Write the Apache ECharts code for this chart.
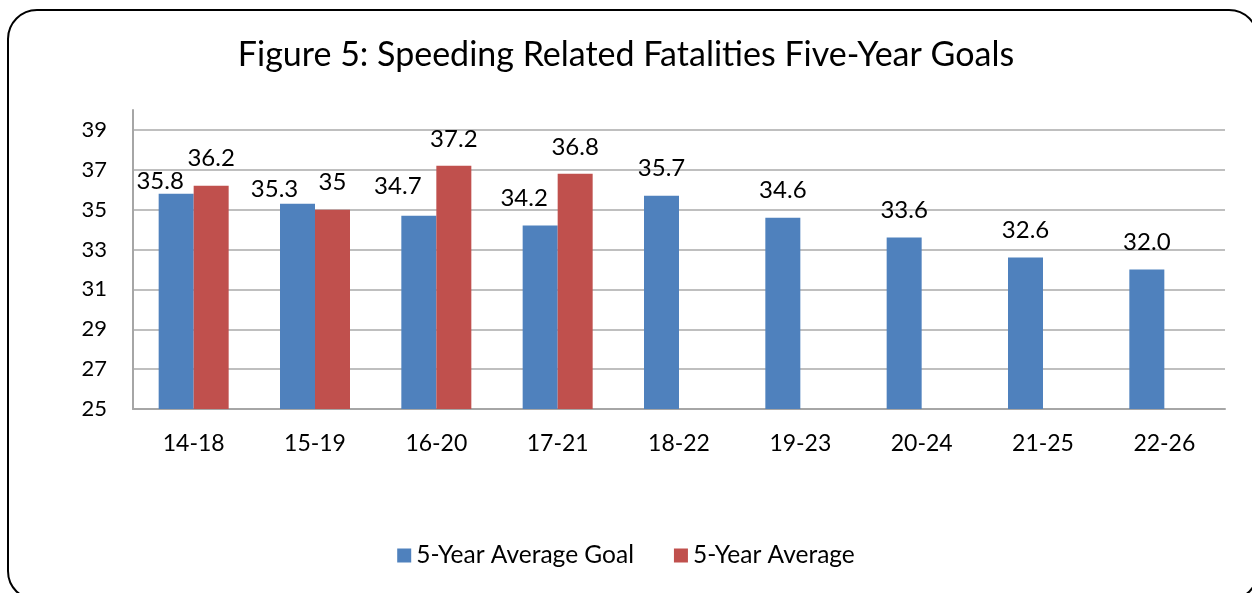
<!DOCTYPE html>
<html>
<head>
<meta charset="utf-8">
<script src="https://cdn.jsdelivr.net/npm/echarts@6/dist/echarts.min.js"></script>
<style>
    html, body { margin: 0; padding: 0; background: #fff; overflow: hidden; }
    #frame {
        position: absolute; left: 7px; top: 9px; width: 1252px; height: 592px;
        border: 2px solid #000; border-radius: 30px; box-sizing: border-box;
    }
    #chart { position: absolute; left: 0; top: 0; width: 1252px; height: 593px; }
</style>
</head>
<body>
<div id="frame"></div>
<div id="chart"></div>
<script>
const periods = ['14-18', '15-19', '16-20', '17-21', '18-22', '19-23', '20-24', '21-25', '22-26']
const goalValues = [35.8, 35.3, 34.7, 34.2, 35.7, 34.6, 33.6, 32.6, 32.0]
const averageValues = [36.2, 35, 37.2, 36.8, null, null, null, null, null]
const yTicks = { min: 25, max: 40, step: 2 }

// goal labels get nudged left/down where they sit next to a red bar
const goalLabelShift = [[-16, 15], [-23, 13], [-21, -2], [-16, 0]]

const font = 'Lato'
const chart = echarts.init(document.getElementById('chart'))

const goalData = goalValues.map((v, i) => {
    const s = goalLabelShift[i]
    return s ? { value: v, label: { offset: s } } : v
})

chart.setOption({
    animation: false,
    textStyle: { fontFamily: font },
    title: {
        text: 'Figure 5: Speeding Related Fatalities Five-Year Goals',
        left: 'center',
        top: 33,
        textStyle: { fontFamily: font, fontSize: 34, fontWeight: 'normal', color: '#000' }
    },
    legend: {
        bottom: 20,
        left: 'center',
        itemWidth: 14,
        itemHeight: 14,
        itemGap: 40,
        icon: 'rect',
        textStyle: { fontFamily: font, fontSize: 24.5, color: '#000' },
        data: ['5-Year Average Goal', '5-Year Average']
    },
    grid: { left: 133, right: 27, top: 110, bottom: 184 },
    xAxis: {
        type: 'category',
        data: periods,
        axisLine: { lineStyle: { color: '#a6a6a6', width: 2 } },
        axisTick: { show: false },
        axisLabel: { fontSize: 23, color: '#000', margin: 23 }
    },
    yAxis: {
        type: 'value',
        min: yTicks.min,
        max: yTicks.max,
        interval: yTicks.step,
        axisLine: { show: true, lineStyle: { color: '#a6a6a6', width: 2 } },
        axisTick: { show: false },
        axisLabel: { fontSize: 22, color: '#000', margin: 26, showMaxLabel: false },
        splitLine: { showMaxLine: false, lineStyle: { color: '#bfbfbf', width: 2 } }
    },
    series: [
        {
            name: '5-Year Average Goal',
            type: 'bar',
            data: goalData,
            barWidth: 35,
            barGap: 0,
            itemStyle: { color: '#4f81bd' },
            label: {
                show: true, position: 'top', distance: 15,
                fontSize: 24, color: '#000',
                formatter: p => Number(p.value).toFixed(1)
            }
        },
        {
            name: '5-Year Average',
            type: 'bar',
            data: averageValues,
            barWidth: 35,
            itemStyle: { color: '#c0504d' },
            label: { show: true, position: 'top', distance: 15, fontSize: 24, color: '#000' }
        }
    ]
})
</script>
</body>
</html>
